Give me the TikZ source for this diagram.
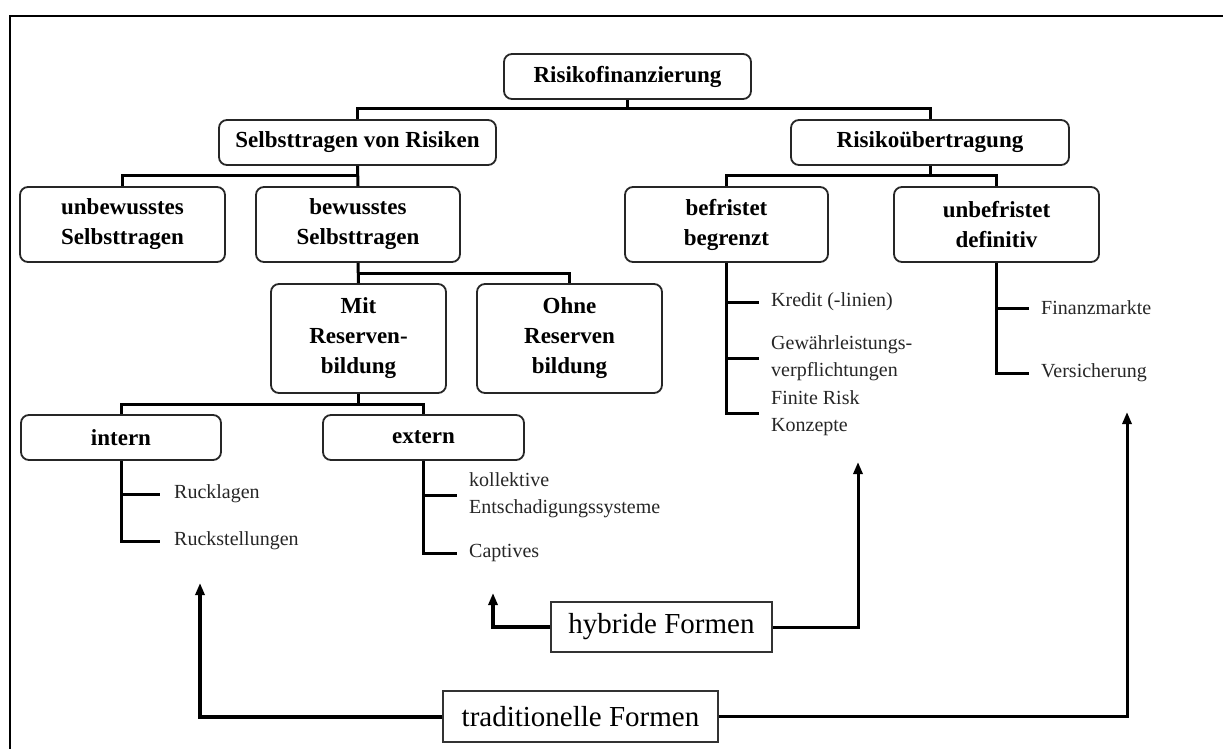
\documentclass[tikz,border=0pt]{standalone}
\usepackage{fontspec}
\setmainfont{Liberation Serif}
\usetikzlibrary{arrows.meta}
\begin{document}
\begin{tikzpicture}[x=1pt,y=-1pt,
  box/.style={draw=black!85, line width=1.8pt, rounded corners=8pt, fill=white, align=center, inner sep=0pt, font=\fontsize{23}{30}\selectfont\bfseries},
  leaf/.style={anchor=west, inner sep=0pt, align=left, font=\fontsize{20}{27}\selectfont, text=black!85},
  conn/.style={line width=3pt, line join=miter},
  formbox/.style={draw=black!80, line width=1.2pt, fill=white, inner sep=0pt, font=\fontsize{29}{32}\selectfont},
  arr/.style={line width=3pt, line join=miter, -{Triangle[length=12pt,width=9pt]}}
]
\useasboundingbox (0,0) rectangle (1223,749);
\fill[white] (0,0) rectangle (1223,749);
% frame
\draw[line width=2pt] (9.5,749) -- (9.5,16) -- (1223,16);

% boxes
\node[box, minimum width=247pt, minimum height=45pt] (root) at (627.5,76.5) {Risikofinanzierung};
\node[box, minimum width=277pt, minimum height=45pt] (sel) at (357.5,142.5) {Selbsttragen von Risiken};
\node[box, minimum width=278pt, minimum height=45pt] (ueb) at (930,142.5) {Risikoübertragung};
\node[box, minimum width=205pt, minimum height=75pt] (unb) at (122.5,224.5) {unbewusstes\\Selbsttragen};
\node[box, minimum width=204pt, minimum height=75pt] (bew) at (358,224.5) {bewusstes\\Selbsttragen};
\node[box, minimum width=203pt, minimum height=75pt] (bef) at (726.5,224.5) {befristet\\begrenzt};
\node[box, minimum width=205pt, minimum height=75pt] (unbef) at (996.5,224.5) {unbefristet\\definitiv};
\node[box, minimum width=175pt, minimum height=109pt] (mit) at (358.5,338.5) {Mit\\Reserven-\\bildung};
\node[box, minimum width=185pt, minimum height=109pt] (ohne) at (569.5,338.5) {Ohne\\Reserven\\bildung};
\node[box, minimum width=200pt, minimum height=45pt] (intern) at (121,437.5) {intern};
\node[box, minimum width=201pt, minimum height=45pt] (extern) at (423.5,437.5) {extern};

% leaves
\node[leaf] (rl) at (174,494) {Rucklagen};
\node[leaf] (rs) at (174,541) {Ruckstellungen};
\node[leaf] (ko) at (469,495) {kollektive\\Entschadigungssysteme};
\node[leaf] (ca) at (469,553) {Captives};
\node[leaf] (kr) at (771,302) {Kredit (-linien)};
\node[leaf] (gw) at (771,358) {Gewährleistungs-\\verpflichtungen};
\node[leaf] (fr) at (771,413) {Finite Risk\\Konzepte};
\node[leaf] (fm) at (1041,308) {Finanzmarkte};
\node[leaf] (vs) at (1041,373) {Versicherung};

% form boxes
\node[formbox, minimum width=221pt, minimum height=50pt] (hyb) at (661.5,627) {hybride Formen};
\node[formbox, minimum width=275pt, minimum height=51pt] (trad) at (580.5,716.5) {traditionelle Formen};

% bus levels
\coordinate (b1) at (0,109);
\coordinate (b2) at (0,175);
\coordinate (b3) at (0,273);
\coordinate (b4) at (0,404);

% tree connectors
\draw[conn] (root.south) -- (root.south |- b1);
\draw[conn] (sel.north) -- (sel.north |- b1) -- (ueb.north |- b1) -- (ueb.north);
\draw[conn] (sel.south) -- (bew.north);
\draw[conn] (unb.north) -- (unb.north |- b2) -- (sel.south |- b2);
\draw[conn] (ueb.south) -- (ueb.south |- b2);
\draw[conn] (bef.north) -- (bef.north |- b2) -- (unbef.north |- b2) -- (unbef.north);
\draw[conn] (bew.south) -- (mit.north);
\draw[conn] (bew.south |- b3) -- (ohne.north |- b3) -- (ohne.north);
\draw[conn] (mit.south) -- (mit.south |- b4);
\draw[conn] (intern.north) -- (intern.north |- b4) -- (extern.north |- b4) -- (extern.north);

% leaf connectors
\draw[conn] (intern.south) |- ([xshift=-14pt]rs.west);
\draw[conn] (intern.south |- rl.west) -- ([xshift=-14pt]rl.west);
\draw[conn] (extern.south) |- ([xshift=-12pt]ca.west);
\draw[conn] (extern.south |- ko.west) -- ([xshift=-12pt]ko.west);
\draw[conn] (bef.south) |- ([xshift=-12pt]fr.west);
\draw[conn] (bef.south |- kr.west) -- ([xshift=-12pt]kr.west);
\draw[conn] (bef.south |- gw.west) -- ([xshift=-12pt]gw.west);
\draw[conn] (unbef.south) |- ([xshift=-12pt]vs.west);
\draw[conn] (unbef.south |- fm.west) -- ([xshift=-12pt]fm.west);

% arrows
\coordinate (hybT) at (858,462);
\coordinate (hybL) at (493,593);
\coordinate (tradL) at (200,583);
\coordinate (tradR) at (1127,412);
\draw[arr] (hyb.east) -| (hybT);
\draw[arr, line width=4pt] (hyb.west) -| (hybL);
\draw[arr, line width=4pt] (trad.west) -| (tradL);
\draw[arr] (trad.east) -| (tradR);
\end{tikzpicture}
\end{document}
